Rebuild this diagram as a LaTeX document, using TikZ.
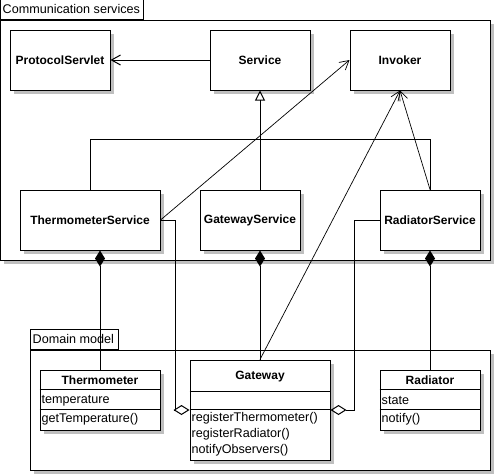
\documentclass[tikz,border=0pt]{standalone}
\usepackage{fontspec}
\setmainfont{Liberation Sans}
\usetikzlibrary{arrows.meta,shadows,calc}
\begin{document}
\begin{tikzpicture}[x=1pt,y=-1pt,
  shd/.style={drop shadow={shadow xshift=4pt,shadow yshift=-4pt,fill=black!25,opacity=1}},
  cls/.style={draw,line width=1pt,fill=white,shd,inner sep=0pt,font=\fontsize{12}{14}\selectfont\bfseries},
  pkg/.style={draw,line width=1pt,fill=white,inner sep=0pt},
  txt/.style={inner sep=0pt,font=\fontsize{12.6}{14}\selectfont},
  bold/.style={inner sep=0pt,font=\fontsize{12}{14}\selectfont\bfseries},
  conn/.style={line width=1pt},
  thin/.style={line width=0.7pt},
  openarrow/.style={-{Straight Barb[length=9pt,width=10pt]}},
  gen/.style={-{Triangle[open,length=10pt,width=10pt]}},
  comp/.style={{Diamond[length=16pt,width=10pt]}-},
  aggr/.style={{Diamond[open,length=16pt,width=10pt]}-}
]
\useasboundingbox (0,0) rectangle (495,475);
% packages
\node[pkg,shd,minimum width=490,minimum height=240] (cs) at (245,140) {};
\node[pkg,minimum width=143,minimum height=20,anchor=south west] (cstab) at (cs.north west) {};
\node[txt,anchor=west] (cslbl) at ($(cstab.west)+(3,0)$) {Communication services};
\node[pkg,shd,minimum width=460,minimum height=120] (dm) at (260,410) {};
\node[pkg,minimum width=88,minimum height=20,anchor=south west] (dmtab) at (dm.north west) {};
\node[txt,anchor=west] (dmlbl) at ($(dmtab.west)+(3,0)$) {Domain model};
% service classes
\node[cls,minimum width=100,minimum height=60] (ps) at (60,60) {ProtocolServlet};
\node[cls,minimum width=100,minimum height=60] (svc) at (260,60) {Service};
\node[cls,minimum width=100,minimum height=60] (inv) at (400,60) {Invoker};
\node[cls,minimum width=140,minimum height=60] (ts) at (90,220) {ThermometerService};
\node[cls,minimum width=100,minimum height=60] (gs) at (250,220) {GatewayService};
\node[cls,minimum width=100,minimum height=60] (rs) at (430,220) {RadiatorService};
% domain classes
\node[cls,minimum width=120,minimum height=60] (therm) at (100,400) {};
\node[bold] (thermname) at ($(therm.north)+(0,11)$) {Thermometer};
\draw[conn] ($(therm.north west)+(0,20)$) -- ($(therm.north east)+(0,20)$);
\node[txt,anchor=west] (thermattr) at ($(therm.north west)+(2,31)$) {temperature};
\draw[conn] ($(therm.north west)+(0,40)$) -- ($(therm.north east)+(0,40)$);
\node[txt,anchor=west] (thermop) at ($(therm.north west)+(2,50)$) {getTemperature()};

\node[cls,minimum width=140,minimum height=100] (gw) at (260,410) {};
\node[bold] (gwname) at ($(gw.north)+(0,17)$) {Gateway};
\draw[conn] ($(gw.north west)+(0,32)$) -- ($(gw.north east)+(0,32)$);
\draw[conn] ($(gw.north west)+(0,50)$) -- ($(gw.north east)+(0,50)$);
\node[txt,anchor=west] (gwop1) at ($(gw.north west)+(2,59)$) {registerThermometer()};
\node[txt,anchor=west] (gwop2) at ($(gw.north west)+(2,75)$) {registerRadiator()};
\node[txt,anchor=west] (gwop3) at ($(gw.north west)+(2,91)$) {notifyObservers()};

\node[cls,minimum width=100,minimum height=60] (rad) at (430,400) {};
\node[bold] (radname) at ($(rad.north)+(0,11)$) {Radiator};
\draw[conn] ($(rad.north west)+(0,20)$) -- ($(rad.north east)+(0,20)$);
\node[txt,anchor=west] (radattr) at ($(rad.north west)+(2,31)$) {state};
\draw[conn] ($(rad.north west)+(0,40)$) -- ($(rad.north east)+(0,40)$);
\node[txt,anchor=west] (radop) at ($(rad.north west)+(2,50)$) {notify()};

% connectors
\draw[conn,openarrow] (svc.west) -- (ps.east);
\draw[conn,gen] (gs.north -| svc.south) -- (svc.south);
\draw[conn] (ts.north) -- ++(0,-50) -| (rs.north);
\draw[thin,openarrow] (ts.east) -- (inv.west);
\draw[thin,openarrow] (rs.north) -- (inv.south);
\draw[thin,openarrow] (gw.north) -- (inv.south);
\draw[conn,comp] (ts.south -| therm.north) -- (therm.north);
\draw[conn,comp] (gs.south -| gw.north) -- (gw.north);
\draw[conn,comp] (rs.south) -- (rad.north);
\coordinate (ta) at ($(ts.east)+(15,0)$);
\coordinate (ra) at ($(rs.west)+(-25,0)$);
\draw[conn,aggr] (gw.west) -| (ta) -- (ts.east);
\draw[conn,aggr] (gw.east) -| (ra) -- (rs.west);
\end{tikzpicture}
\end{document}
